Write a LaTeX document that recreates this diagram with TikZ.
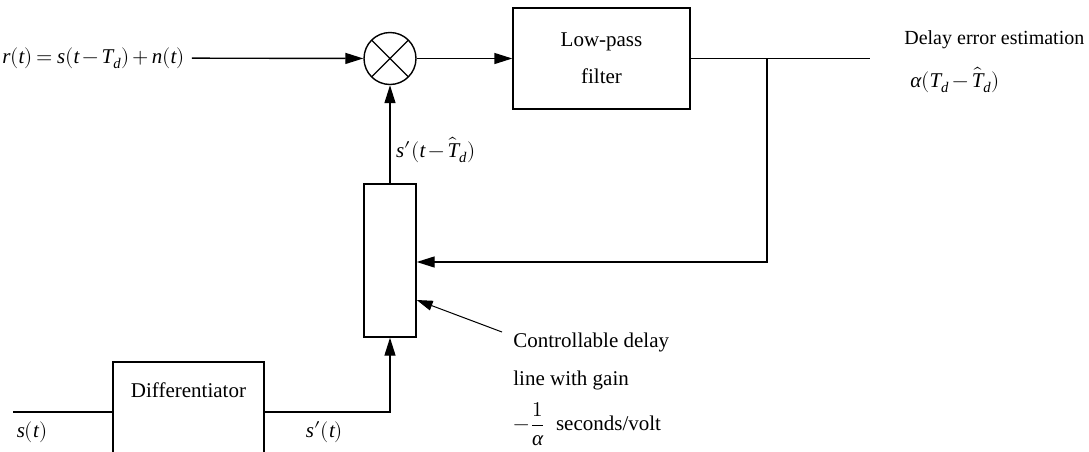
\documentclass[tikz,border=0pt]{standalone}
\usepackage{fontspec}
\usepackage{unicode-math}
\setmainfont{Liberation Serif}
\setmathfont{Latin Modern Math}
\setmathfont{Liberation Serif Italic}[range=it]
\medmuskip=2.5mu plus 1mu minus 1mu
\thickmuskip=3.5mu plus 2mu
\usetikzlibrary{arrows.meta,positioning}
\begin{document}
\begin{tikzpicture}[x=0.5pt,y=-0.5pt,font=\fontsize{10.5}{12.6}\selectfont,line width=0.7pt,
  blk/.style={draw,inner sep=0pt,align=center},
  arr/.style={-{Triangle[length=9pt,width=5.5pt]}},
  mixer/.style={circle,draw,minimum size=26pt,inner sep=0pt,path picture={\draw (path picture bounding box.north west) -- (path picture bounding box.south east) (path picture bounding box.north east) -- (path picture bounding box.south west);}}]
\useasboundingbox (0,0) rectangle (1089,451);
\node (rin) at (93.5,58) {$r(t)=s(t-T_d)+n(t)$};
\node[mixer] (mx) at (390,58.5) {};
\node[blk,minimum width=88.5pt,minimum height=50.5pt] (lpf) at (601.5,58.5) {Low-pass\\[6pt]filter};
\node[blk,minimum width=26pt,minimum height=76.5pt] (dly) at (390,260.5) {};
\node[blk,minimum width=75.5pt,minimum height=59pt] (dif) at (188.5,421) {}; \node (diftxt) at (188.5,390) {Differentiator};
\coordinate (tap) at (767,58.5); \coordinate (oend) at (870,58.5); \coordinate (fb) at (767,262); \coordinate (sin) at (13,412);
\draw[arr] (rin) -- (mx); \draw[arr] (mx) -- (lpf); \draw (lpf) -- (oend);
\draw[arr] (tap) -- (fb) -- (fb -| dly.east);
\draw[arr] (dly) -- (mx); \node (sdt) at (436,150) {$s'(t-\hat{T}_d)$};
\draw (sin) -- (sin -| dif.west); \draw[arr] (sin -| dif.east) -| (dly);
\node (slbl) at (32,432) {$s(t)$}; \node (sdlbl) at (324.5,432) {$s'(t)$};
\node[anchor=west] (ctl) at (506,342) {Controllable delay}; \node[anchor=west] (ctl2) at (506,380) {line with gain}; \node[anchor=west] (ctl3) at (506,424) {$\displaystyle -\frac{1}{\alpha}$\enspace seconds/volt};
\coordinate (ctp) at (502,332); \coordinate (ctq) at (418,300);
\draw[-{Triangle[length=8pt,width=5pt]},line width=0.5pt] (ctp) -- (dly.east |- ctq);
\node[anchor=west,font=\fontsize{10}{12}\selectfont] (err) at (897,40) {Delay error estimation}; \node[anchor=west] (errv) at (903,80) {$\alpha(T_d-\hat{T}_d)$};
\end{tikzpicture}
\end{document}
